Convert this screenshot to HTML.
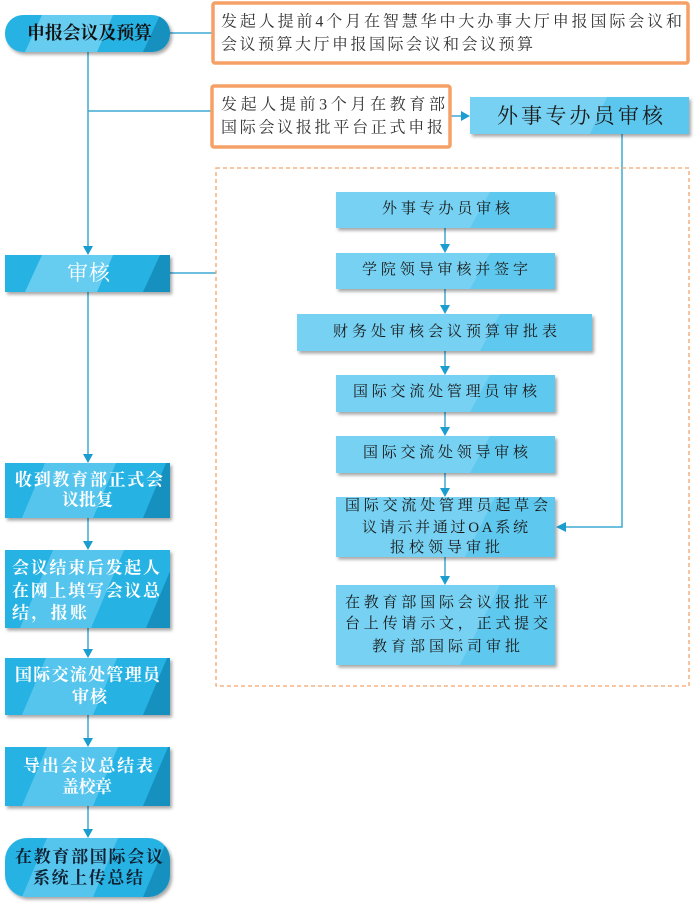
<!DOCTYPE html>
<html><head><meta charset="utf-8"><style>
html,body{margin:0;padding:0;background:#fff;}
svg{display:block;}
text{font-family:"Liberation Serif","Noto Serif CJK SC",serif;dominant-baseline:central;}
.o{font-size:16px;fill:#333;}
.w{font-size:17px;fill:#fff;font-weight:700;}
.d{font-size:17px;fill:#0e2233;font-weight:700;}
.i{font-size:15px;fill:#1a1a1a;}
</style></head><body>
<svg width="699" height="912" viewBox="0 0 699 912" xmlns="http://www.w3.org/2000/svg">
<defs>
<filter id="sh" x="-10%" y="-20%" width="130%" height="160%"><feDropShadow dx="2" dy="2.5" stdDeviation="1.5" flood-color="#000" flood-opacity="0.35"/></filter>
<clipPath id="cA"><rect x="5" y="15" width="165" height="37" rx="18"/></clipPath>
<clipPath id="cB"><rect x="5" y="255" width="165" height="37"/></clipPath>
<clipPath id="cC"><rect x="5" y="463" width="165" height="55"/></clipPath>
<clipPath id="cD"><rect x="5" y="550" width="165" height="78"/></clipPath>
<clipPath id="cE"><rect x="5" y="658" width="165" height="57"/></clipPath>
<clipPath id="cF"><rect x="5" y="747" width="165" height="59"/></clipPath>
<clipPath id="cG"><rect x="5" y="838" width="165" height="59" rx="22"/></clipPath>
</defs>

<!-- connectors -->
<g stroke="#3fa9d2" stroke-width="1.5" fill="none">
<line x1="88" y1="52" x2="88" y2="247"/>
<line x1="170" y1="33" x2="213" y2="33"/>
<line x1="88" y1="111" x2="212" y2="111"/>
<line x1="450" y1="116" x2="462" y2="116"/>
<line x1="170" y1="273" x2="216" y2="273"/>
<line x1="88" y1="292" x2="88" y2="455"/>
<line x1="88" y1="518" x2="88" y2="542"/>
<line x1="88" y1="628" x2="88" y2="650"/>
<line x1="88" y1="715" x2="88" y2="739"/>
<line x1="88" y1="806" x2="88" y2="830"/>
<polyline points="622,134 622,527 565,527"/>
<line x1="445" y1="228" x2="445" y2="245"/>
<line x1="445" y1="289" x2="445" y2="306"/>
<line x1="445" y1="351" x2="445" y2="367"/>
<line x1="445" y1="412" x2="445" y2="428"/>
<line x1="445" y1="473" x2="445" y2="489"/>
<line x1="445" y1="557" x2="445" y2="577"/>
</g>
<g fill="#1c9dd0">
<polygon points="88,255 83,246 93,246"/>
<polygon points="88,463 83,454 93,454"/>
<polygon points="88,550 83,541 93,541"/>
<polygon points="88,658 83,649 93,649"/>
<polygon points="88,747 83,738 93,738"/>
<polygon points="88,838 83,829 93,829"/>
<polygon points="470,116 461,111 461,121"/>
<polygon points="556,527 566,522 566,532"/>
<polygon points="445,253 440,244 450,244"/>
<polygon points="445,314 440,305 450,305"/>
<polygon points="445,375 440,366 450,366"/>
<polygon points="445,436 440,427 450,427"/>
<polygon points="445,497 440,488 450,488"/>
<polygon points="445,585 440,576 450,576"/>
</g>

<!-- dashed container -->
<rect x="216" y="168" width="473" height="518" fill="none" stroke="#f4a46c" stroke-width="1.3" stroke-dasharray="4,3"/>

<!-- orange boxes -->
<rect x="213" y="3" width="475" height="60" rx="2" fill="#fff" stroke="#f5a066" stroke-width="3.5"/>
<text class="o" x="221" y="22" textLength="461" lengthAdjust="spacing">发起人提前4个月在智慧华中大办事大厅申报国际会议和</text>
<text class="o" x="221" y="45" textLength="312" lengthAdjust="spacing">会议预算大厅申报国际会议和会议预算</text>
<rect x="212" y="86" width="238" height="61" rx="2" fill="#fff" stroke="#f5a066" stroke-width="3.5"/>
<text class="o" x="221" y="105" textLength="224" lengthAdjust="spacing">发起人提前3个月在教育部</text>
<text class="o" x="221" y="128" textLength="222" lengthAdjust="spacing">国际会议报批平台正式申报</text>

<!-- top right blue box -->
<g filter="url(#sh)">
<rect x="470" y="97" width="219" height="37" fill="#76d1f2"/>
<polygon points="590,134 607,97 689,97 689,134" fill="#5cc7ee"/>
</g>
<text x="497" y="116" style="font-size:21px;fill:#1a1a1a" textLength="166" lengthAdjust="spacing">外事专办员审核</text>

<!-- left column boxes -->
<g filter="url(#sh)"><g clip-path="url(#cA)">
<rect x="5" y="15" width="165" height="37" fill="#27b3e4"/>
<polygon points="25,52 42,15 113,15 97,52" fill="#66ccf0"/>
<polygon points="143,52 160,15 180,15 180,52" fill="#1691bf"/>
</g></g>
<text x="27" y="33" style="font-size:18px;fill:#111;font-weight:700" textLength="125" lengthAdjust="spacing">申报会议及预算</text>

<g filter="url(#sh)"><g clip-path="url(#cB)">
<rect x="5" y="255" width="165" height="37" fill="#27b3e4"/>
<polygon points="25,292 42,255 113,255 97,292" fill="#66ccf0"/>
<polygon points="143,292 160,255 180,255 180,292" fill="#1691bf"/>
</g></g>
<text x="67" y="273" style="font-size:21px;fill:#fff" textLength="43" lengthAdjust="spacing">审核</text>

<g filter="url(#sh)"><g clip-path="url(#cC)">
<rect x="5" y="463" width="165" height="55" fill="#27b3e4"/>
<polygon points="22,518 45,463 116,463 93,518" fill="#55c5ee"/>
<polygon points="143,518 166,463 180,463 180,518" fill="#1691bf"/>
</g></g>
<text class="w" x="15" y="480" textLength="148" lengthAdjust="spacing">收到教育部正式会</text>
<text class="w" x="62" y="500" textLength="51" lengthAdjust="spacing">议批复</text>

<g filter="url(#sh)"><g clip-path="url(#cD)">
<rect x="5" y="550" width="165" height="78" fill="#27b3e4"/>
<polygon points="20,628 53,550 124,550 91,628" fill="#55c5ee"/>
<polygon points="146,628 179,550 180,550 180,628" fill="#1691bf"/>
</g></g>
<text class="w" x="12" y="568" textLength="148" lengthAdjust="spacing">会议结束后发起人</text>
<text class="w" x="12" y="591" textLength="148" lengthAdjust="spacing">在网上填写会议总</text>
<text class="w" x="12" y="613" textLength="75" lengthAdjust="spacing">结，报账</text>

<g filter="url(#sh)"><g clip-path="url(#cE)">
<rect x="5" y="658" width="165" height="57" fill="#27b3e4"/>
<polygon points="22,715 46,658 117,658 93,715" fill="#55c5ee"/>
<polygon points="143,715 167,658 180,658 180,715" fill="#1691bf"/>
</g></g>
<text class="w" x="15" y="675" textLength="145" lengthAdjust="spacing">国际交流处管理员</text>
<text class="w" x="72" y="697" textLength="35" lengthAdjust="spacing">审核</text>

<g filter="url(#sh)"><g clip-path="url(#cF)">
<rect x="5" y="747" width="165" height="59" fill="#27b3e4"/>
<polygon points="22,806 47,747 118,747 93,806" fill="#55c5ee"/>
<polygon points="143,806 168,747 180,747 180,806" fill="#1691bf"/>
</g></g>
<text class="w" x="23" y="766" textLength="130" lengthAdjust="spacing">导出会议总结表</text>
<text class="w" x="62" y="787" textLength="50" lengthAdjust="spacing">盖校章</text>

<g filter="url(#sh)"><g clip-path="url(#cG)">
<rect x="5" y="838" width="165" height="59" fill="#27b3e4"/>
<polygon points="22,897 47,838 118,838 93,897" fill="#55c5ee"/>
<polygon points="143,897 168,838 180,838 180,897" fill="#1691bf"/>
</g></g>
<text class="d" x="15" y="857" textLength="148" lengthAdjust="spacing">在教育部国际会议</text>
<text class="d" x="33" y="878" textLength="110" lengthAdjust="spacing">系统上传总结</text>

<!-- inner boxes -->
<g filter="url(#sh)">
<rect x="336" y="192" width="219" height="36" fill="#76d1f2"/>
<polygon points="470,228 490,192 555,192 555,228" fill="#5ec8ee"/>
<rect x="336" y="253" width="219" height="36" fill="#76d1f2"/>
<polygon points="470,289 490,253 555,253 555,289" fill="#5ec8ee"/>
<rect x="297" y="314" width="295" height="37" fill="#76d1f2"/>
<polygon points="480,351 500,314 592,314 592,351" fill="#5ec8ee"/>
<rect x="336" y="375" width="219" height="37" fill="#76d1f2"/>
<polygon points="470,412 490,375 555,375 555,412" fill="#5ec8ee"/>
<rect x="336" y="436" width="219" height="37" fill="#76d1f2"/>
<polygon points="470,473 490,436 555,436 555,473" fill="#5ec8ee"/>
<rect x="336" y="497" width="219" height="60" fill="#76d1f2"/>
<polygon points="465,557 495,497 555,497 555,557" fill="#5ec8ee"/>
<rect x="336" y="585" width="219" height="80" fill="#76d1f2"/>
<polygon points="460,665 500,585 555,585 555,665" fill="#5ec8ee"/>
</g>
<text class="i" x="382" y="209" textLength="128" lengthAdjust="spacing">外事专办员审核</text>
<text class="i" x="362" y="270" textLength="166" lengthAdjust="spacing">学院领导审核并签字</text>
<text class="i" x="333" y="332" textLength="224" lengthAdjust="spacing">财务处审核会议预算审批表</text>
<text class="i" x="353" y="392" textLength="184" lengthAdjust="spacing">国际交流处管理员审核</text>
<text class="i" x="363" y="453" textLength="165" lengthAdjust="spacing">国际交流处领导审核</text>
<text class="i" x="345" y="506" textLength="203" lengthAdjust="spacing">国际交流处管理员起草会</text>
<text class="i" x="362" y="528" textLength="166" lengthAdjust="spacing">议请示并通过OA系统</text>
<text class="i" x="390" y="548" textLength="110" lengthAdjust="spacing">报校领导审批</text>
<text class="i" x="345" y="603" textLength="203" lengthAdjust="spacing">在教育部国际会议报批平</text>
<text class="i" x="345" y="624" textLength="203" lengthAdjust="spacing">台上传请示文，正式提交</text>
<text class="i" x="372" y="647" textLength="148" lengthAdjust="spacing">教育部国际司审批</text>
</svg>
</body></html>
